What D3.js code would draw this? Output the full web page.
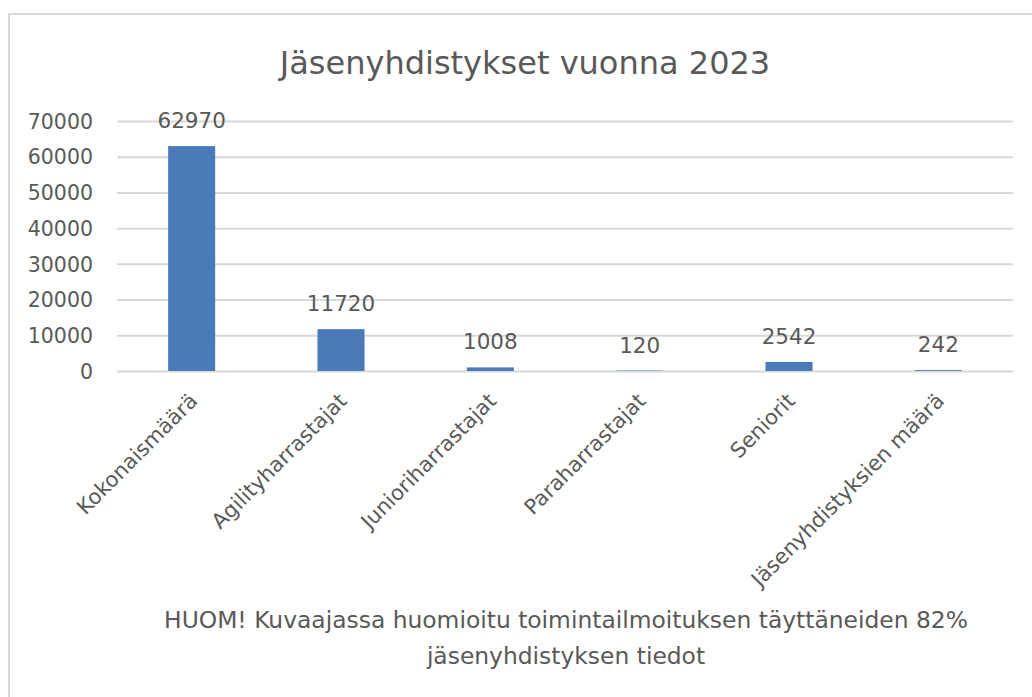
<!DOCTYPE html>
<html>
<head>
<meta charset="utf-8">
<script src="https://cdn.jsdelivr.net/npm/d3@7"></script>
<style>
  html, body { margin:0; padding:0; background:#fff; }
  svg text { font-family: "DejaVu Sans", "Open Sans", sans-serif; fill:#595959; }
</style>
</head>
<body>
<svg id="chart" width="1032" height="697"></svg>
<script>
// data
const categories = ["Kokonaismäärä", "Agilityharrastajat", "Junioriharrastajat", "Paraharrastajat", "Seniorit", "Jäsenyhdistyksien määrä"];
const values = [62970, 11720, 1008, 120, 2542, 242];
const yTicks = [0, 10000, 20000, 30000, 40000, 50000, 60000, 70000];
const titleText = "Jäsenyhdistykset vuonna 2023";
const noteLines = ["HUOM! Kuvaajassa huomioitu toimintailmoituksen täyttäneiden 82%", "jäsenyhdistyksen tiedot"];

const svg = d3.select("#chart");
const W = 1032, H = 697;

// kehys
svg.append("rect")
  .attr("x", 9).attr("y", 14)
  .attr("width", W + 20).attr("height", H + 20)
  .attr("fill", "#fff").attr("stroke", "#d9d9d9").attr("stroke-width", 2);

const plot = { left: 117, right: 1013, top: 121, bottom: 371 };

const x = d3.scaleBand()
  .domain(categories)
  .range([plot.left, plot.right])
  .paddingInner(0.685)
  .paddingOuter(0.3425);

const y = d3.scaleLinear()
  .domain([0, 70000])
  .range([plot.bottom, plot.top]);

// otsikko
svg.append("text")
  .attr("x", 525).attr("y", 74)
  .attr("text-anchor", "middle")
  .style("font-size", "32px")
  .text(titleText);

// gridlines
svg.append("g")
  .attr("transform", `translate(${plot.left},0)`)
  .call(d3.axisLeft(y).tickValues(yTicks).tickSize(-(plot.right - plot.left)).tickFormat(""))
  .call(g => g.select(".domain").remove())
  .call(g => g.selectAll("line").attr("stroke", "#d9d9d9").attr("stroke-width", 2));

// y-akseli
svg.append("g")
  .attr("transform", `translate(${plot.left - 24},0)`)
  .call(d3.axisLeft(y).tickValues(yTicks).tickSize(0).tickPadding(0).tickFormat(d3.format("d")))
  .call(g => g.select(".domain").remove())
  .call(g => g.selectAll("text").style("font-size", "20.5px").attr("fill", "#595959").attr("dy", "0.35em"));

// pylväät
svg.selectAll(".bar")
  .data(values)
  .join("rect")
  .attr("class", "bar")
  .attr("x", (d, i) => x(categories[i]))
  .attr("y", d => y(d))
  .attr("width", x.bandwidth())
  .attr("height", d => y(0) - y(d))
  .attr("fill", "#4a7ab8");

// arvot
svg.selectAll(".val")
  .data(values)
  .join("text")
  .attr("class", "val")
  .attr("x", (d, i) => x(categories[i]) + x.bandwidth() / 2)
  .attr("y", d => y(d) - 18)
  .attr("text-anchor", "middle")
  .style("font-size", "21.5px")
  .text(d => d);

// x-akselin nimet
svg.append("g")
  .attr("transform", `translate(0,${plot.bottom})`)
  .call(d3.axisBottom(x).tickSize(0).tickPadding(0))
  .call(g => g.select(".domain").remove())
  .call(g => g.selectAll("text")
    .style("font-size", "21px")
    .attr("fill", "#595959")
    .attr("text-anchor", "end")
    .attr("dy", "0.35em")
    .attr("transform", "translate(2,26) rotate(-45)"));

// huomautus
svg.append("g")
  .selectAll("text")
  .data(noteLines)
  .join("text")
  .attr("x", 566)
  .attr("y", (d, i) => 628 + i * 36)
  .attr("text-anchor", "middle")
  .style("font-size", "23.4px")
  .text(d => d);
</script>
</body>
</html>
